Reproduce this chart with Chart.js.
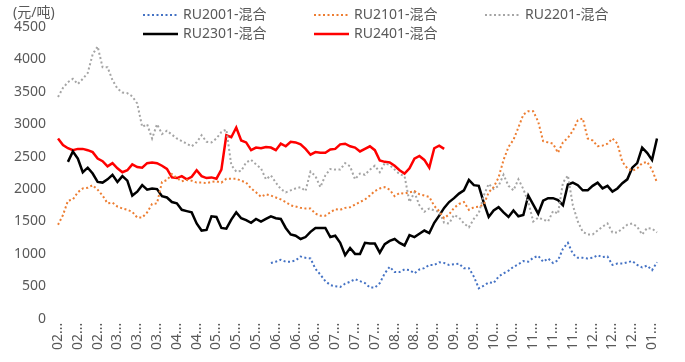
<!DOCTYPE html>
<html>
<head>
<meta charset="utf-8">
<script src="https://cdn.jsdelivr.net/npm/chart.js@4"></script>
<style>
  body { margin: 0; background: #fff; }
  #wrap { width: 685px; height: 362px; }
</style>
</head>
<body>
<div id="wrap"><canvas id="rubber-chart"></canvas></div>
<script>
// month tick labels, one every 4 trading-day samples
const monthTicks = ['02', '02', '02', '03', '03', '03', '04', '04', '05', '05', '05', '06', '06', '06', '07', '07',
  '07', '08', '08', '09', '09', '09', '10', '10', '11', '11', '11', '12', '12', '12', '01'];

const ru2001 = [null, null, null, null, null, null, null, null, null, null, null, null, null, null, null, null, null, null, null, null,
  null, null, null, null, null, null, null, null, null, null, null, null, null, null, null, null, null, null, null, null,
  null, null, null, 860, 880, 910, 880, 880, 900, 960, 940, 930, 770, 680, 580, 520, 500, 490, 540, 570,
  610, 580, 550, 480, 480, 550, 700, 800, 720, 720, 760, 750, 700, 760, 780, 830, 830, 870, 860, 830,
  840, 850, 780, 780, 650, 470, 510, 560, 550, 650, 700, 740, 800, 840, 890, 880, 940, 970, 880, 930,
  860, 900, 1080, 1170, 1000, 940, 940, 930, 940, 980, 950, 960, 830, 850, 850, 870, 890, 830, 790, 820,
  750, 870];

const ru2101 = [1450, 1600, 1820, 1840, 1950, 2010, 2020, 2060, 1990, 1900, 1780, 1790, 1730, 1700, 1680, 1650, 1560, 1560, 1640, 1770,
  1780, 2110, 2140, 2230, 2170, 2120, 2140, 2130, 2100, 2100, 2090, 2110, 2120, 2100, 2160, 2160, 2160, 2130, 2100, 2010,
  1950, 1880, 1920, 1900, 1870, 1840, 1800, 1750, 1730, 1710, 1700, 1700, 1620, 1590, 1590, 1640, 1690, 1680, 1710, 1720,
  1760, 1800, 1840, 1900, 1970, 2010, 2030, 1990, 1890, 1940, 1930, 1950, 1970, 1920, 1900, 1880, 1740, 1660, 1550, 1610,
  1710, 1770, 1800, 1680, 1720, 1730, 1760, 1950, 2030, 2180, 2450, 2650, 2760, 2950, 3150, 3200, 3200, 3040, 2740, 2720,
  2700, 2560, 2720, 2790, 2900, 3060, 3090, 2780, 2750, 2660, 2670, 2700, 2780, 2700, 2420, 2320, 2280, 2320, 2400, 2420,
  2300, 2100];

const ru2201 = [3420, 3560, 3650, 3700, 3620, 3700, 3790, 4080, 4200, 3880, 3880, 3680, 3550, 3490, 3480, 3430, 3320, 2960, 3000, 2780,
  3000, 2850, 2900, 2840, 2780, 2740, 2700, 2660, 2720, 2830, 2730, 2720, 2780, 2880, 2920, 2370, 2270, 2280, 2410, 2450,
  2380, 2320, 2150, 2210, 2100, 2000, 1950, 1980, 2010, 2030, 1970, 2270, 2200, 2030, 2210, 2310, 2300, 2300, 2400, 2350,
  2150, 2240, 2220, 2300, 2360, 2260, 2400, 2370, 2300, 2230, 2200, 1800, 1950, 1750, 1650, 1700, 1670, 1650, 1480, 1470,
  1600, 1560, 1470, 1410, 1540, 1630, 1900, 2080, 2000, 2050, 2220, 2050, 1980, 2150, 2000, 1800, 1500, 1560, 1530, 1500,
  1660, 1620, 2100, 2210, 1750, 1500, 1340, 1300, 1300, 1360, 1420, 1470, 1330, 1330, 1390, 1450, 1470, 1420, 1300, 1400,
  1390, 1330];

const ru2301 = [null, null, 2420, 2580, 2470, 2260, 2330, 2240, 2110, 2100, 2150, 2220, 2110, 2200, 2130, 1900, 1960, 2060, 1990, 2010,
  2000, 1890, 1870, 1800, 1780, 1680, 1660, 1640, 1470, 1360, 1370, 1580, 1570, 1400, 1390, 1530, 1640, 1550, 1520, 1480,
  1540, 1500, 1540, 1580, 1550, 1540, 1400, 1300, 1280, 1230, 1260, 1340, 1400, 1400, 1400, 1260, 1280, 1170, 980, 1090,
  1000, 1000, 1170, 1160, 1160, 1020, 1150, 1200, 1230, 1170, 1130, 1290, 1260, 1310, 1360, 1320, 1480, 1590, 1710, 1800,
  1860, 1930, 1980, 2140, 2060, 2050, 1790, 1570, 1670, 1720, 1640, 1570, 1670, 1580, 1600, 1900, 1760, 1620, 1820, 1860,
  1860, 1830, 1750, 2070, 2100, 2060, 1980, 1980, 2050, 2100, 2010, 2050, 1960, 2010, 2090, 2150, 2330, 2400, 2640, 2560,
  2450, 2780];

const ru2401 = [2780, 2680, 2630, 2600, 2620, 2620, 2600, 2570, 2470, 2430, 2350, 2400, 2320, 2260, 2290, 2380, 2340, 2330, 2400, 2410,
  2400, 2360, 2310, 2180, 2170, 2200, 2150, 2190, 2290, 2200, 2170, 2180, 2160, 2300, 2830, 2800, 2950, 2750, 2720, 2600,
  2640, 2630, 2650, 2640, 2600, 2700, 2660, 2730, 2720, 2690, 2620, 2530, 2570, 2560, 2560, 2610, 2620, 2690, 2700, 2660,
  2640, 2580, 2620, 2660, 2600, 2440, 2420, 2410, 2360, 2290, 2240, 2320, 2470, 2510, 2450, 2330, 2630, 2670, 2620];

const yTicks = [0, 500, 1000, 1500, 2000, 2500, 3000, 3500, 4000, 4500];

const categories = [];
for (let i = 0; i < ru2101.length; i++) {
  categories.push(i % 4 === 0 ? monthTicks[i / 4] : '');
}

const FONT = '"Noto Sans", "Noto Sans CJK SC", sans-serif';
const TEXT_COLOR = '#595959';

function dotted(label, data, color) {
  return {
    label: label,
    data: data,
    borderColor: color,
    backgroundColor: color,
    borderWidth: 2,
    borderDash: [2, 2.5],
    pointRadius: 0,
    tension: 0,
    fill: false,
  };
}

function solid(label, data, color) {
  return {
    label: label,
    data: data,
    borderColor: color,
    backgroundColor: color,
    borderWidth: 2.5,
    pointRadius: 0,
    tension: 0,
    fill: false,
  };
}

// legend laid out as a grid (3 per row, rows left aligned) plus the unit label
const gridLegend = {
  id: 'gridLegend',
  afterDraw(chart) {
    const ctx = chart.ctx;
    ctx.save();
    ctx.font = '14px ' + FONT;
    ctx.fillStyle = TEXT_COLOR;
    ctx.textBaseline = 'middle';
    ctx.textAlign = 'left';
    ctx.fillText('(元/吨)', 13, 13);
    chart.data.datasets.forEach((ds, i) => {
      const x = 143 + (i % 3) * 171;
      const y = 15 + Math.floor(i / 3) * 19;
      ctx.beginPath();
      ctx.strokeStyle = ds.borderColor;
      ctx.lineWidth = ds.borderWidth;
      ctx.setLineDash(ds.borderDash || []);
      ctx.moveTo(x, y);
      ctx.lineTo(x + 35, y);
      ctx.stroke();
      ctx.setLineDash([]);
      ctx.fillStyle = TEXT_COLOR;
      ctx.fillText(ds.label, x + 40, y);
    });
    ctx.restore();
  },
};

function loadChart() {
  const ctx = document.getElementById('rubber-chart').getContext('2d');
  new Chart(ctx, {
    type: 'line',
    data: {
      labels: categories,
      datasets: [
        dotted('RU2001-混合', ru2001, '#4472C4'),
        dotted('RU2101-混合', ru2101, '#ED7D31'),
        dotted('RU2201-混合', ru2201, '#A5A5A5'),
        solid('RU2301-混合', ru2301, '#000000'),
        solid('RU2401-混合', ru2401, '#FF0000'),
      ],
    },
    options: {
      responsive: true,
      maintainAspectRatio: false,
      animation: false,
      layout: {
        padding: { top: 27, left: 2, right: 28, bottom: 8 },
      },
      plugins: {
        legend: { display: false },
        tooltip: { enabled: false },
      },
      scales: {
        x: {
          grid: { display: false, drawTicks: false },
          border: { display: false },
          ticks: {
            autoSkip: false,
            maxRotation: 90,
            minRotation: 90,
            padding: 4,
            color: TEXT_COLOR,
            font: { family: FONT, size: 14 },
            callback: function (value) {
              const lab = this.getLabelForValue(value);
              return lab ? lab + '...' : null;
            },
          },
        },
        y: {
          min: yTicks[0],
          max: yTicks[yTicks.length - 1],
          grid: { display: false, drawTicks: false },
          border: { display: false },
          afterBuildTicks: (axis) => {
            axis.ticks = yTicks.map((v) => ({ value: v }));
          },
          ticks: {
            padding: 12,
            color: TEXT_COLOR,
            font: { family: FONT, size: 14 },
            callback: (value) => String(value),
          },
        },
      },
    },
    plugins: [gridLegend],
  });
}

window.onload = loadChart;
</script>
</body>
</html>
